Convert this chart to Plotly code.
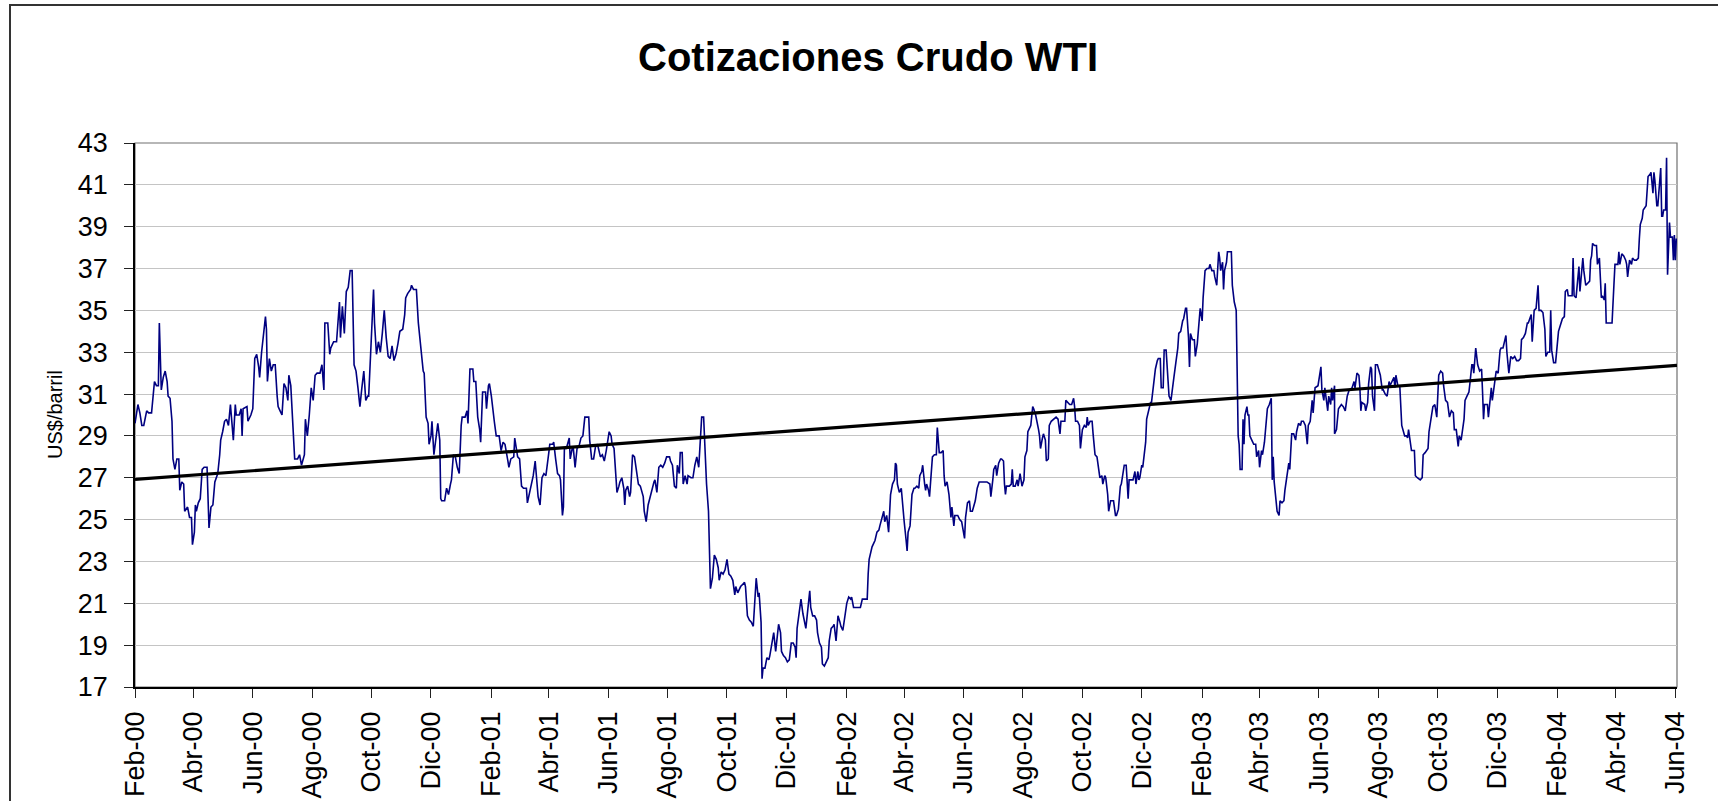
import pandas as pd
import plotly.graph_objects as go

# ---------------- Datos ----------------
fecha_inicio = "2000-02-01"

# (días desde 01-feb-2000, US$/barril)
tramo_2000 = [
    (0, 29.6), (2, 30.2), (3, 30.5), (5, 30.1), (7, 29.5), (9, 29.5), (12, 30.2), (14, 30.1), (17, 30.1), (20, 31.6),
    (22, 31.4), (24, 31.4), (25, 34.4), (27, 31.2), (29, 31.8), (31, 32.1), (33, 31.6), (34, 30.9), (36, 30.8), (38, 29.7),
    (39, 27.9), (41, 27.4), (43, 27.9), (45, 27.9), (46, 26.4), (48, 26.8), (50, 26.7), (51, 25.4), (54, 25.6), (56, 25.1),
    (58, 25.1), (59, 23.8), (61, 24.4), (62, 25.7), (63, 25.4), (65, 25.8), (67, 26.0), (69, 27.4), (71, 27.5), (74, 27.5),
    (75, 26.4), (76, 24.6), (78, 25.6), (80, 25.7), (82, 26.8), (85, 27.2), (87, 28.1), (88, 28.8), (90, 29.2), (92, 29.7),
    (94, 29.8), (96, 29.5), (98, 30.5), (99, 29.9), (101, 28.8), (103, 30.5), (104, 30.0), (107, 30.0), (109, 30.3), (110, 29.0),
    (111, 30.3), (115, 30.4), (116, 29.7), (119, 30.0), (121, 30.3), (123, 32.7), (125, 32.9), (127, 32.3), (128, 31.8), (130, 33.0),
    (132, 33.9), (134, 34.7), (135, 34.1), (136, 31.6), (138, 32.7), (140, 32.1), (142, 32.4), (144, 32.4), (146, 30.9), (147, 30.4),
    (149, 30.2), (151, 30.0), (153, 31.5), (155, 31.3), (157, 30.7), (158, 31.9), (160, 31.4), (162, 29.7), (163, 28.6), (164, 27.9),
    (167, 27.9), (169, 28.1), (171, 27.6), (174, 28.1), (175, 29.8), (177, 29.0), (179, 30.0), (181, 31.3), (183, 30.7), (185, 31.9),
    (187, 32.0), (190, 32.0), (192, 32.4), (194, 31.2), (195, 34.4), (198, 34.4), (200, 32.9), (201, 33.2), (204, 33.5), (207, 33.5),
    (210, 35.4), (211, 33.7), (213, 35.2), (215, 33.9), (217, 35.9), (219, 36.1), (221, 36.9), (223, 36.9), (225, 32.4), (227, 32.1),
    (229, 31.3), (231, 30.4), (233, 31.3), (235, 32.1), (237, 30.7), (239, 30.9), (240, 30.9), (242, 33.0), (245, 36.0), (246, 34.4),
    (248, 32.9), (250, 33.5), (252, 33.0), (254, 33.9), (256, 35.0), (258, 33.7), (260, 32.8), (262, 32.7), (264, 33.3), (266, 32.6),
    (268, 32.9), (270, 33.4), (272, 34.0), (275, 34.1), (277, 34.8), (278, 35.6), (280, 35.8), (283, 36.0), (284, 36.2), (286, 36.0),
    (289, 36.0), (291, 34.4), (293, 33.5), (296, 32.1), (297, 32.0), (299, 29.9), (301, 29.6), (302, 28.6), (304, 29.0), (305, 29.7),
    (307, 28.1), (309, 28.8), (311, 29.6), (313, 28.8), (314, 26.0), (315, 25.9), (318, 25.9), (320, 26.5), (322, 26.2), (324, 26.7),
]

tramo_2001 = [
    (325, 26.9), (327, 28.1), (329, 28.0), (331, 27.5), (333, 27.2), (335, 29.5), (336, 29.9), (339, 29.9), (341, 30.2), (342, 29.6),
    (344, 32.2), (347, 32.2), (348, 31.6), (350, 31.6), (352, 29.9), (354, 29.3), (355, 28.7), (357, 31.1), (360, 31.1), (361, 30.3),
    (363, 31.4), (364, 31.5), (366, 30.9), (369, 29.7), (371, 29.0), (374, 29.0), (376, 28.3), (378, 28.7), (380, 28.6), (383, 27.8),
    (384, 27.5), (386, 27.9), (389, 28.0), (390, 28.9), (392, 28.4), (393, 28.0), (395, 27.9), (397, 26.6), (399, 26.5), (402, 26.5),
    (403, 25.8), (405, 26.2), (407, 26.7), (409, 27.1), (411, 27.8), (413, 26.3), (414, 26.1), (416, 25.7), (418, 27.0), (420, 27.2),
    (422, 27.1), (425, 28.2), (426, 28.6), (429, 28.6), (430, 28.7), (432, 27.9), (434, 27.2), (436, 27.1), (437, 26.9), (439, 25.2),
    (440, 25.6), (441, 28.4), (443, 28.4), (446, 28.9), (447, 27.9), (449, 28.4), (450, 28.5), (452, 27.5), (454, 28.4), (456, 28.5),
    (458, 28.9), (460, 29.0), (462, 29.9), (464, 29.9), (466, 29.9), (467, 28.8), (469, 27.9), (471, 27.9), (473, 28.5), (475, 28.6),
    (478, 28.0), (480, 28.1), (482, 27.8), (484, 28.3), (486, 29.0), (487, 29.2), (489, 29.0), (490, 28.6), (492, 28.4), (493, 27.5),
    (495, 26.3), (497, 26.6), (498, 26.8), (500, 27.0), (502, 26.5), (503, 25.7), (504, 26.4), (506, 26.6), (508, 26.1), (509, 26.3),
    (511, 28.1), (513, 28.0), (515, 27.2), (517, 26.7), (519, 26.6), (522, 26.1), (523, 25.4), (525, 24.9), (527, 25.7), (528, 25.9),
    (531, 26.5), (533, 26.8), (534, 26.9), (536, 26.3), (538, 27.5), (540, 27.6), (542, 27.5), (544, 27.7), (546, 28.0), (549, 28.0),
    (550, 27.8), (552, 27.6), (554, 26.6), (556, 26.5), (557, 27.6), (559, 27.2), (560, 28.2), (562, 28.2), (563, 26.7), (565, 27.1),
    (567, 26.7), (568, 27.1), (571, 27.0), (573, 27.0), (575, 27.6), (577, 28.0), (579, 27.5), (580, 28.2), (582, 29.9), (584, 29.9),
    (586, 27.6), (587, 26.7), (589, 25.4), (590, 23.3), (591, 21.7), (593, 22.2), (595, 23.3), (597, 23.1), (599, 22.7), (600, 22.1),
    (602, 22.5), (604, 22.4), (606, 22.6), (608, 23.1), (610, 22.4), (612, 22.3), (614, 22.1), (616, 21.4), (617, 21.8), (619, 21.5),
    (621, 21.7), (622, 21.8), (624, 21.9), (626, 22.0), (627, 21.8), (629, 20.4), (631, 20.2), (633, 20.1), (635, 19.9), (636, 20.6),
    (638, 22.2), (640, 21.3), (641, 21.5), (643, 20.1), (644, 17.4), (645, 17.9), (647, 17.9), (649, 18.4), (651, 18.3), (652, 18.5),
    (654, 19.1), (656, 19.6), (658, 18.7), (660, 19.6), (661, 20.0), (663, 19.6), (664, 18.7), (666, 18.5), (668, 18.4), (670, 18.2),
    (672, 18.3), (674, 19.1), (676, 19.1), (678, 18.9), (679, 18.4), (680, 19.8), (682, 20.6), (684, 21.2), (686, 20.5), (688, 20.1),
    (689, 19.8), (691, 20.7), (693, 21.6), (694, 20.8), (696, 20.4), (698, 20.4), (700, 20.2), (701, 19.6), (703, 19.1), (705, 18.9),
    (706, 18.1), (708, 18.0), (710, 18.2), (712, 18.4), (713, 19.2), (715, 19.8), (717, 19.9), (718, 20.0), (720, 19.2), (722, 20.4),
    (724, 20.1), (725, 19.9), (727, 19.7), (729, 20.4), (731, 21.0), (733, 21.3), (735, 21.2), (736, 21.3), (738, 20.8), (741, 20.8),
    (745, 20.8), (747, 21.2), (749, 21.2), (752, 21.2), (753, 22.4), (754, 23.1),
]

tramo_2002 = [
    (757, 23.7), (758, 23.8), (760, 24.0), (762, 24.4), (764, 24.5), (765, 24.7), (767, 25.0), (769, 25.4), (770, 24.9), (772, 25.2),
    (774, 24.4), (775, 25.8), (776, 26.2), (778, 26.7), (780, 26.9), (781, 27.7), (782, 27.6), (783, 26.7), (785, 26.3), (787, 26.5),
    (788, 25.9), (790, 24.9), (792, 24.0), (793, 23.5), (794, 24.4), (796, 24.7), (798, 26.2), (800, 26.5), (801, 26.5), (803, 26.6),
    (805, 26.5), (806, 27.1), (808, 27.3), (809, 27.6), (811, 26.7), (812, 26.4), (813, 26.7), (815, 26.4), (816, 26.1), (818, 27.8),
    (819, 28.0), (821, 28.1), (823, 28.1), (824, 29.4), (826, 28.2), (828, 28.2), (830, 28.3), (831, 27.1), (832, 26.6), (834, 26.8),
    (836, 26.2), (838, 25.1), (839, 25.6), (841, 24.7), (842, 25.2), (845, 25.2), (847, 25.0), (849, 24.9), (850, 24.6), (852, 24.1),
    (853, 25.1), (855, 25.8), (857, 25.9), (858, 25.4), (860, 25.4), (862, 25.7), (863, 25.9), (865, 26.5), (867, 26.8), (869, 26.8),
    (871, 26.8), (875, 26.8), (878, 26.7), (879, 26.1), (881, 26.9), (882, 27.4), (884, 27.6), (885, 27.1), (887, 27.7), (889, 27.9),
    (890, 27.9), (892, 27.8), (893, 26.7), (894, 26.2), (895, 26.6), (898, 26.6), (900, 26.7), (901, 27.4), (902, 26.6), (904, 26.6),
    (906, 26.9), (907, 26.6), (909, 27.2), (911, 26.6), (913, 26.9), (914, 28.0), (916, 28.3), (917, 29.2), (919, 29.4), (920, 29.5),
    (922, 30.4), (923, 30.3), (925, 30.0), (926, 29.8), (928, 29.3), (929, 29.0), (930, 28.4), (932, 28.9), (933, 29.1), (935, 28.8),
    (936, 27.8), (938, 27.9), (939, 29.5), (941, 29.7), (943, 29.8), (946, 29.9), (948, 29.8), (950, 29.1), (951, 29.7), (953, 29.7),
    (955, 29.7), (956, 30.7), (958, 30.6), (960, 30.5), (962, 30.5), (964, 30.8), (965, 30.4), (966, 29.7), (968, 29.7), (970, 29.5),
    (971, 28.4), (972, 29.1), (973, 29.3), (975, 29.5), (977, 29.4), (978, 29.9), (979, 29.5), (981, 29.7), (983, 29.7), (984, 29.1),
    (986, 28.1), (988, 28.0), (990, 27.2), (991, 27.0), (993, 27.1), (994, 26.7), (996, 27.1), (997, 27.0), (999, 26.2), (1000, 25.4),
    (1002, 25.9), (1004, 25.9), (1005, 25.9), (1007, 25.2), (1008, 25.2), (1010, 25.5), (1012, 26.6), (1013, 26.7), (1015, 27.5), (1016, 27.6),
    (1018, 27.6), (1020, 26.0), (1021, 26.9), (1023, 26.9), (1025, 26.9), (1027, 27.3), (1028, 26.7), (1030, 27.3), (1031, 26.9), (1032, 27.0),
    (1034, 27.6), (1035, 27.5), (1037, 28.4), (1038, 28.7), (1039, 29.8), (1041, 30.2), (1043, 30.6), (1044, 30.6), (1046, 31.3), (1048, 32.2),
    (1050, 32.6), (1051, 32.7), (1053, 32.7), (1054, 31.3), (1056, 31.3), (1057, 33.1), (1059, 33.1), (1060, 32.3), (1062, 30.9), (1064, 30.7),
    (1066, 31.6), (1067, 31.8), (1069, 32.5), (1071, 33.2), (1072, 33.9), (1074, 34.0), (1076, 34.5), (1077, 34.6), (1079, 35.1), (1080, 35.1),
    (1082, 33.7), (1083, 32.3), (1084, 33.9), (1086, 33.6), (1088, 33.6), (1089, 32.8), (1091, 33.4), (1092, 34.1), (1094, 35.1), (1096, 34.5),
    (1097, 35.6), (1099, 36.9), (1101, 37.0), (1103, 37.0), (1104, 37.2), (1106, 36.9), (1108, 36.9), (1109, 36.6), (1111, 36.2), (1113, 37.8),
    (1114, 37.5), (1115, 36.9), (1117, 37.3), (1118, 36.0), (1119, 36.9), (1121, 37.3), (1122, 37.8), (1124, 37.8), (1126, 37.8), (1127, 36.2),
    (1129, 35.4), (1131, 35.0), (1132, 32.0), (1133, 29.0), (1134, 28.6), (1135, 27.4), (1137, 27.4), (1138, 29.8), (1139, 28.6), (1140, 30.0),
    (1142, 30.4), (1143, 30.0), (1144, 30.0), (1145, 29.0), (1147, 28.8), (1149, 28.6), (1151, 28.6), (1152, 28.0), (1154, 28.3), (1155, 27.5),
    (1157, 28.3), (1158, 28.1), (1160, 28.7), (1161, 29.3), (1163, 30.3), (1165, 30.5), (1167, 30.8), (1168, 26.9), (1169, 28.0), (1170, 26.8),
    (1171, 26.4), (1173, 25.4), (1175, 25.2), (1176, 25.9), (1178, 25.8), (1180, 25.9), (1181, 26.4), (1183, 27.1), (1185, 27.7), (1186, 27.4),
    (1188, 29.1), (1190, 29.1), (1192, 28.8), (1193, 29.2), (1195, 29.6),
]

tramo_2003 = [
    (1197, 29.5), (1198, 29.7), (1200, 29.7), (1202, 29.5), (1204, 28.6), (1205, 29.5), (1207, 29.7), (1209, 30.7), (1210, 30.1), (1211, 30.7),
    (1212, 31.3), (1215, 31.4), (1217, 31.9), (1218, 32.3), (1219, 31.2), (1221, 30.7), (1222, 31.3), (1223, 30.9), (1225, 30.2), (1226, 30.9),
    (1228, 30.5), (1229, 31.3), (1230, 30.7), (1232, 31.4), (1232, 29.1), (1234, 29.3), (1236, 30.3), (1239, 30.5), (1241, 30.4), (1243, 30.2),
    (1245, 30.9), (1247, 31.2), (1250, 31.3), (1252, 31.6), (1253, 31.3), (1255, 32.0), (1257, 31.9), (1258, 31.3), (1259, 30.2), (1260, 30.6),
    (1263, 30.5), (1264, 30.2), (1266, 30.6), (1267, 31.5), (1269, 32.3), (1270, 32.2), (1271, 30.9), (1273, 30.2), (1274, 32.4), (1276, 32.4),
    (1277, 32.2), (1279, 31.9), (1281, 31.2), (1282, 31.2), (1284, 31.0), (1286, 30.9), (1288, 31.6), (1289, 31.4), (1291, 31.6), (1293, 31.8),
    (1294, 31.3), (1295, 31.9), (1297, 31.4), (1299, 31.4), (1301, 29.5), (1302, 29.3), (1304, 29.0), (1306, 29.0), (1307, 28.9), (1308, 29.3),
    (1310, 28.4), (1311, 28.3), (1314, 28.3), (1315, 27.1), (1317, 27.0), (1320, 26.9), (1322, 27.0), (1323, 28.1), (1325, 28.2), (1328, 28.4),
    (1329, 29.2), (1331, 29.9), (1333, 30.4), (1335, 30.5), (1337, 29.9), (1339, 31.9), (1341, 32.1), (1343, 32.0), (1344, 31.4), (1346, 30.7),
    (1348, 30.6), (1350, 29.9), (1352, 30.2), (1354, 30.1), (1355, 29.3), (1357, 29.3), (1359, 28.5), (1360, 29.0), (1362, 28.8), (1365, 29.8),
    (1366, 30.7), (1368, 30.9), (1370, 31.1), (1371, 31.5), (1373, 32.4), (1374, 32.4), (1375, 32.0), (1377, 33.2), (1378, 32.8), (1379, 32.4),
    (1381, 32.1), (1383, 32.2), (1384, 31.1), (1385, 29.8), (1386, 30.5), (1389, 30.5), (1390, 29.9), (1391, 30.5), (1393, 31.3), (1394, 30.7),
    (1396, 31.3), (1398, 32.1), (1400, 32.0), (1402, 33.1), (1403, 33.2), (1405, 33.2), (1407, 33.6), (1408, 33.8), (1409, 33.0), (1411, 32.0),
    (1413, 32.8), (1415, 32.7), (1417, 32.8), (1419, 32.6), (1421, 32.6), (1423, 32.7), (1424, 33.6), (1426, 33.7), (1428, 33.9), (1430, 34.4),
    (1431, 34.4), (1433, 34.7), (1434, 34.8), (1435, 33.5), (1437, 35.0), (1439, 35.1), (1441, 36.2), (1442, 35.0), (1444, 35.0), (1446, 34.9),
    (1448, 34.1), (1449, 32.8), (1451, 33.0), (1453, 33.0), (1454, 35.0), (1455, 33.1), (1457, 32.5), (1459, 32.5), (1460, 33.0), (1462, 34.0),
    (1464, 34.3), (1466, 34.6), (1468, 34.7), (1469, 35.9), (1471, 36.0), (1472, 35.7), (1474, 35.7), (1476, 35.7), (1477, 37.5), (1478, 35.7),
    (1480, 35.6), (1482, 36.5), (1483, 37.1), (1484, 35.9), (1486, 37.2), (1487, 37.5), (1488, 36.9), (1490, 36.2), (1492, 36.3), (1494, 36.4),
    (1495, 37.4), (1496, 37.6), (1497, 38.2), (1499, 38.1), (1501, 38.1), (1502, 37.2), (1504, 37.5), (1505, 36.4), (1506, 35.6), (1507, 35.7),
    (1509, 35.5), (1510, 36.3), (1511, 34.4), (1513, 34.4), (1517, 34.4), (1519, 36.3), (1520, 37.2), (1523, 37.2), (1524, 37.8), (1525, 37.2),
    (1527, 37.7), (1529, 37.6), (1531, 37.4), (1532, 37.2), (1533, 36.6), (1535, 37.4), (1537, 37.2), (1538, 37.5), (1540, 37.4), (1542, 37.4),
    (1544, 37.5), (1545, 38.4), (1546, 39.1), (1548, 39.4), (1549, 39.8), (1552, 40.0), (1553, 40.8), (1554, 41.4), (1556, 41.5), (1557, 41.6),
    (1559, 40.6), (1560, 41.6), (1561, 41.2), (1563, 40.0), (1564, 40.0), (1566, 41.4), (1567, 41.8), (1568, 39.5), (1569, 39.5), (1570, 39.8),
    (1572, 39.8), (1573, 42.3), (1574, 36.7), (1576, 39.2), (1577, 38.5), (1579, 38.5), (1580, 37.4), (1581, 38.6), (1582, 37.4), (1583, 38.4),
    (1584, 38.4),
]

# Línea de tendencia (valores en los extremos)
tendencia_valores = [26.92, 32.37]

# Eje X
fechas_ticks = [
    "2000-02-01", "2000-04-01", "2000-06-01", "2000-08-01", "2000-10-01", "2000-12-01",
    "2001-02-01", "2001-04-01", "2001-06-01", "2001-08-01", "2001-10-01", "2001-12-01",
    "2002-02-01", "2002-04-01", "2002-06-01", "2002-08-01", "2002-10-01", "2002-12-01",
    "2003-02-01", "2003-04-01", "2003-06-01", "2003-08-01", "2003-10-01", "2003-12-01",
    "2004-02-01", "2004-04-01", "2004-06-01",
]
etiquetas_ticks = [
    "Feb-00", "Abr-00", "Jun-00", "Ago-00", "Oct-00", "Dic-00",
    "Feb-01", "Abr-01", "Jun-01", "Ago-01", "Oct-01", "Dic-01",
    "Feb-02", "Abr-02", "Jun-02", "Ago-02", "Oct-02", "Dic-02",
    "Feb-03", "Abr-03", "Jun-03", "Ago-03", "Oct-03", "Dic-03",
    "Feb-04", "Abr-04", "Jun-04",
]
rango_x = ["2000-02-01", "2004-06-02 17:00"]
rango_y = [17, 43]

titulo = "Cotizaciones Crudo WTI"
titulo_y = "US$/barril"

# ---------------- Construcción ----------------
serie = tramo_2000 + tramo_2001 + tramo_2002 + tramo_2003
inicio = pd.Timestamp(fecha_inicio)
fechas = [inicio + pd.Timedelta(days=d) for d, _ in serie]
precios = [p for _, p in serie]

FONT = "Liberation Sans, Arial, sans-serif"

fig = go.Figure()
fig.add_trace(go.Scatter(
    x=fechas, y=precios, mode="lines",
    line=dict(color="#000080", width=1.6),
    showlegend=False, hoverinfo="x+y",
))
fig.add_trace(go.Scatter(
    x=[rango_x[0], rango_x[1]], y=tendencia_valores, mode="lines",
    line=dict(color="#000000", width=3.2),
    showlegend=False, hoverinfo="skip",
))

W, H = 1718, 801
L, R, T, B = 135, 41, 143, 114
pw, ph = W - L - R, H - T - B

def px_x(p):
    return (p - L) / pw

def px_y(p):
    return (H - B - p) / ph

fig.update_layout(
    template="none",
    width=W, height=H,
    margin=dict(l=L, r=R, t=T, b=B, pad=0, autoexpand=False),
    paper_bgcolor="white", plot_bgcolor="white",
    font=dict(family=FONT, color="black"),
    title=dict(
        text="<b>" + titulo + "</b>",
        x=868 / W, xanchor="center",
        y=1 - 57 / H, yanchor="middle",
        font=dict(family=FONT, size=40, color="black"),
    ),
    xaxis=dict(
        type="date", range=rango_x, automargin=False,
        tickmode="array", tickvals=fechas_ticks, ticktext=etiquetas_ticks,
        tickangle=-90, tickfont=dict(family=FONT, size=27, color="black"),
        ticks="outside", ticklen=9, tickwidth=1, tickcolor="#222222",
        ticklabelstandoff=3,
        showgrid=False, zeroline=False,
        showline=True, linecolor="black", linewidth=1.5,
        fixedrange=True,
    ),
    yaxis=dict(
        range=rango_y, dtick=2, tick0=17, automargin=False,
        tickfont=dict(family=FONT, size=27, color="black"),
        ticks="outside", ticklen=9, tickwidth=1, tickcolor="#222222",
        ticklabelstandoff=11,
        showgrid=True, gridcolor="#c4c4c4", gridwidth=1,
        zeroline=False,
        showline=True, linecolor="black", linewidth=1.5,
        fixedrange=True,
    ),
    shapes=[
        dict(type="rect", xref="paper", yref="paper", x0=0, x1=1, y0=0, y1=1,
             line=dict(color="#707070", width=1.2), fillcolor="rgba(0,0,0,0)", layer="below"),
        dict(type="rect", xref="paper", yref="paper",
             x0=px_x(10), x1=px_x(1740), y0=px_y(830), y1=px_y(5),
             line=dict(color="#333333", width=2), fillcolor="rgba(0,0,0,0)", layer="below"),
    ],
    annotations=[
        dict(text=titulo_y, xref="paper", yref="paper", x=px_x(55), y=0.5,
             xanchor="center", yanchor="middle", textangle=-90, showarrow=False,
             font=dict(family=FONT, size=20, color="black")),
    ],
)

fig.write_html(
    "out.html",
    config={"displayModeBar": False},
    post_script="document.body.style.margin='0';document.body.style.overflow='hidden';",
)
